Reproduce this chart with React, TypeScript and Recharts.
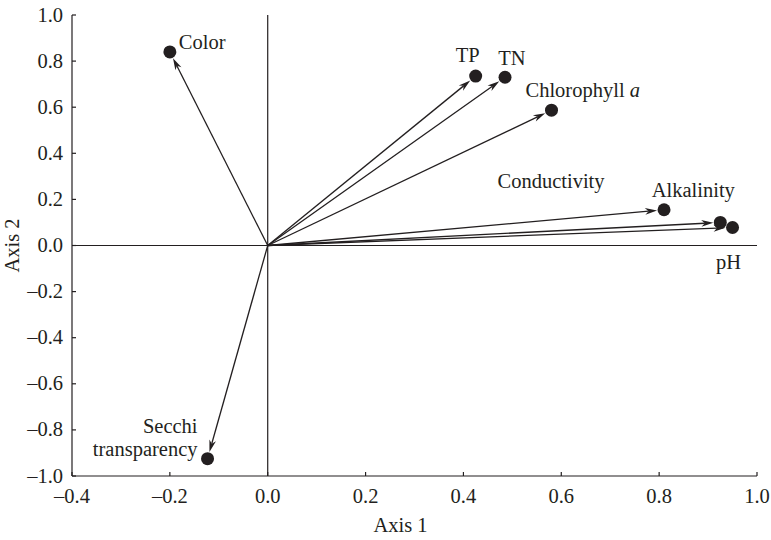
import * as React from "react"
import { ScatterChart, Scatter, XAxis, YAxis, ReferenceLine } from "recharts"

// loadings
const variables = ["Color", "TP", "TN", "Chlorophyll a", "Conductivity", "Alkalinity", "pH", "Secchi transparency"]
const axis1 = [-0.2, 0.425, 0.485, 0.58, 0.81, 0.925, 0.95, -0.123]
const axis2 = [0.84, 0.735, 0.73, 0.587, 0.155, 0.1, 0.078, -0.925]

const xTicks = [-0.4, -0.2, 0, 0.2, 0.4, 0.6, 0.8, 1.0]
const yTicks = [-1.0, -0.8, -0.6, -0.4, -0.2, 0, 0.2, 0.4, 0.6, 0.8, 1.0]

const INK = "#231f20"
const FONT = "'Liberation Serif', 'Times New Roman', serif"
const FS = 20.5

// where each label sits relative to its dot
const labelPlacement: Record<string, { dx: number; dy: number; anchor: string; lines: string[] }> = {
  Color: { dx: 9, dy: -3, anchor: "start", lines: ["Color"] },
  TP: { dx: -8, dy: -14, anchor: "middle", lines: ["TP"] },
  TN: { dx: 7, dy: -12, anchor: "middle", lines: ["TN"] },
  "Chlorophyll a": { dx: -26, dy: -13, anchor: "start", lines: ["Chlorophyll a"] },
  Conductivity: { dx: -113, dy: -22, anchor: "middle", lines: ["Conductivity"] },
  Alkalinity: { dx: -27, dy: -25, anchor: "middle", lines: ["Alkalinity"] },
  pH: { dx: -4, dy: 41, anchor: "middle", lines: ["pH"] },
  "Secchi transparency": { dx: -10, dy: -26, anchor: "end", lines: ["Secchi", "transparency"] },
}

const data = variables.map((name, i) => ({ name, x: axis1[i], y: axis2[i] }))

const fmt = (v: number) => {
  const s = Math.abs(v).toFixed(1)
  return v < -1e-9 ? "\u2013" + s : s
}

function BottomTick({ x, y, payload }: any) {
  return (
    <g>
      <line x1={x} y1={y} x2={x} y2={y - 4} stroke={INK} strokeWidth={1.2} />
      <text x={x} y={y + 27} textAnchor="middle" fill={INK} fontFamily={FONT} fontSize={FS}>
        {fmt(payload.value)}
      </text>
    </g>
  )
}

function TopTick({ x, y }: any) {
  return <line x1={x} y1={y} x2={x} y2={y + 4} stroke={INK} strokeWidth={1.2} />
}

function LeftTick({ x, y, payload }: any) {
  return (
    <g>
      <line x1={x} y1={y} x2={x + 4} y2={y} stroke={INK} strokeWidth={1.2} />
      <text x={x - 9} y={y + 6.5} textAnchor="end" fill={INK} fontFamily={FONT} fontSize={FS}>
        {fmt(payload.value)}
      </text>
    </g>
  )
}

function RightTick({ x, y }: any) {
  return <line x1={x} y1={y} x2={x - 4} y2={y} stroke={INK} strokeWidth={1.2} />
}

function Arrow(props: any) {
  const { x1, y1, x2, y2 } = props
  const dx = x2 - x1
  const dy = y2 - y1
  const len = Math.hypot(dx, dy)
  const ux = dx / len
  const uy = dy / len
  const nx = -uy
  const ny = ux
  const tx = x2 - ux * 7
  const ty = y2 - uy * 7
  const L = 12
  const W = 3.4
  const notch = 8.5
  const bx = tx - ux * L
  const by = ty - uy * L
  const pts = [
    [tx, ty],
    [bx + nx * W, by + ny * W],
    [tx - ux * notch, ty - uy * notch],
    [bx - nx * W, by - ny * W],
  ]
  return (
    <g>
      <line x1={x1} y1={y1} x2={tx - ux * notch} y2={ty - uy * notch} stroke={INK} strokeWidth={1.3} />
      <polygon points={pts.map((p) => p.join(",")).join(" ")} fill={INK} />
    </g>
  )
}

function Dot(props: any) {
  const { cx, cy, payload } = props
  const place = labelPlacement[payload.name]
  return (
    <g>
      <circle cx={cx} cy={cy} r={6.5} fill={INK} />
      {place &&
        place.lines.map((line, i) => (
          <text
            key={i}
            x={cx + place.dx}
            y={cy + place.dy + i * 23}
            textAnchor={place.anchor as any}
            fill={INK}
            fontFamily={FONT}
            fontSize={FS}
          >
            {line === "Chlorophyll a" ? (
              <>
                Chlorophyll <tspan fontStyle="italic">a</tspan>
              </>
            ) : (
              line
            )}
          </text>
        ))}
    </g>
  )
}

export default function App() {
  return (
    <div style={{ position: "absolute", left: 0, top: 0, background: "#fff" }}>
      <ScatterChart width={771} height={540} margin={{ top: 15, right: 14, bottom: 0, left: 0 }}>
        <XAxis
          dataKey="x"
          type="number"
          domain={[-0.4, 1.0]}
          ticks={xTicks}
          interval={0}
          allowDataOverflow
          height={64}
          tickSize={0}
          tickMargin={0}
          tickLine={false}
          tick={<BottomTick />}
          axisLine={{ stroke: INK, strokeWidth: 1.2 }}
          label={{
            content: ({ viewBox }: any) => (
              <text
                x={viewBox.x + viewBox.width / 2 - 14}
                y={viewBox.y + 56}
                textAnchor="middle"
                fill={INK}
                fontFamily={FONT}
                fontSize={FS}
              >
                Axis 1
              </text>
            ),
          }}
        />
        <XAxis
          xAxisId="top"
          orientation="top"
          type="number"
          domain={[-0.4, 1.0]}
          ticks={xTicks}
          interval={0}
          allowDataOverflow
          height={0}
          tickSize={0}
          tickMargin={0}
          tickLine={false}
          tick={<TopTick />}
          axisLine={{ stroke: INK, strokeWidth: 1.2 }}
        />
        <YAxis
          dataKey="y"
          type="number"
          domain={[-1.0, 1.0]}
          ticks={yTicks}
          interval={0}
          allowDataOverflow
          width={72}
          tickSize={0}
          tickMargin={0}
          tickLine={false}
          tick={<LeftTick />}
          axisLine={{ stroke: INK, strokeWidth: 1.2 }}
          label={{
            content: ({ viewBox }: any) => {
              const cx = 19
              const cy = viewBox.y + viewBox.height / 2
              return (
                <text
                  x={cx}
                  y={cy}
                  textAnchor="middle"
                  transform={`rotate(-90 ${cx} ${cy})`}
                  fill={INK}
                  fontFamily={FONT}
                  fontSize={FS}
                >
                  Axis 2
                </text>
              )
            },
          }}
        />
        <YAxis
          yAxisId="right"
          orientation="right"
          type="number"
          domain={[-1.0, 1.0]}
          ticks={yTicks}
          interval={0}
          allowDataOverflow
          width={0}
          tickSize={0}
          tickMargin={0}
          tickLine={false}
          tick={<RightTick />}
          axisLine={{ stroke: INK, strokeWidth: 1.2 }}
        />
        <ReferenceLine x={0} stroke={INK} strokeWidth={1.2} />
        <ReferenceLine y={0} stroke={INK} strokeWidth={1.2} />
        {data.map((d) => (
          <ReferenceLine
            key={d.name}
            segment={[
              { x: 0, y: 0 },
              { x: d.x, y: d.y },
            ]}
            shape={Arrow}
          />
        ))}
        <Scatter data={data} shape={<Dot />} isAnimationActive={false} />
      </ScatterChart>
    </div>
  )
}
